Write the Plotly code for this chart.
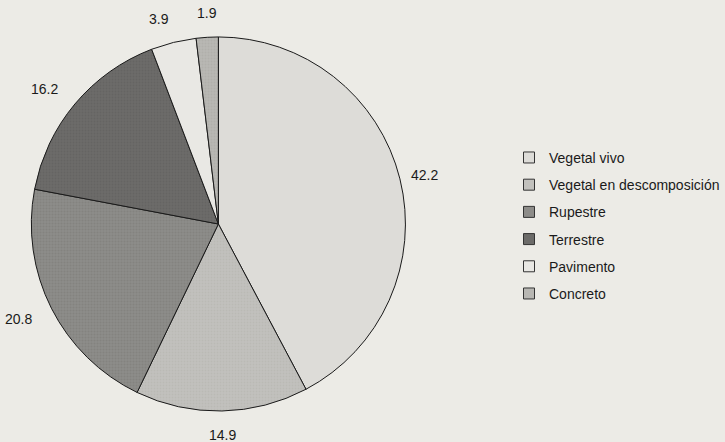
import math
import plotly.graph_objects as go

categories = ["Vegetal vivo", "Vegetal en descomposición", "Rupestre",
              "Terrestre", "Pavimento", "Concreto"]
values = [42.2, 14.9, 20.8, 16.2, 3.9, 1.9]
value_labels = ["42.2", "14.9", "20.8", "16.2", "3.9", "1.9"]
colors = ["#dddcd8", "#c2c1bd", "#8d8c89", "#6c6b69", "#e9e8e4", "#b8b7b3"]
pattern_fg = ["#d4d3cf", "#b2b1ad", "#7a7976", "#5e5d5b", "#e0dfdb", "#a9a8a4"]
pattern_shapes = ["", ".", ".", ".", "", "."]

W, H = 725, 442
BG = "#ecebe6"
FONT = "Liberation Sans, Arial, Helvetica, sans-serif"

# pie geometry in pixels
cx, cy, R = 223, 224, 191
dom_x = [(cx - R) / W, (cx + R) / W]
dom_y = [1 - (cy + R) / H, 1 - (cy - R) / H]

fig = go.Figure()
fig.add_trace(go.Pie(
    labels=categories,
    values=values,
    sort=False,
    direction="clockwise",
    rotation=0,
    textinfo="none",
    hoverinfo="label+value",
    showlegend=False,
    marker=dict(
        colors=colors,
        line=dict(color="#1a1a1a", width=1),
        pattern=dict(shape=pattern_shapes, fgcolor=pattern_fg,
                     size=3, solidity=0.35, fillmode="overlay"),
    ),
    domain=dict(x=dom_x, y=dom_y),
))

# legend entries (one per category, spaced like the original key)
for name, col in zip(categories, colors):
    fig.add_trace(go.Scatter(
        x=[None], y=[None], mode="markers", name=name,
        legendgroup=name, showlegend=True, hoverinfo="skip",
        marker=dict(symbol="square", size=11, color=col,
                    line=dict(color="#333333", width=1)),
    ))

# value labels outside the pie, placed from the cumulative angles
total = sum(values)
cum = 0.0
annotations = []
for v, t in zip(values, value_labels):
    mid = (cum + v / 2) / total * 2 * math.pi
    cum += v
    s, c = math.sin(mid), math.cos(mid)
    gap = 20 if s < -0.5 else 10
    px = cx + (R + gap) * s
    py = cy - (R + gap) * c
    xa = "left" if s > 0.2 else ("right" if s < -0.2 else "center")
    ya = "bottom" if c > 0.7 else ("top" if c < -0.7 else "middle")
    annotations.append(dict(
        x=px / W, y=1 - py / H, xref="paper", yref="paper",
        text=t, showarrow=False, xanchor=xa, yanchor=ya,
        font=dict(size=14, color="#1a1a1a", family=FONT),
    ))

fig.update_layout(
    width=W, height=H,
    margin=dict(l=0, r=0, t=0, b=0),
    paper_bgcolor=BG,
    plot_bgcolor=BG,
    xaxis=dict(visible=False),
    yaxis=dict(visible=False),
    annotations=annotations,
    legend=dict(
        x=0.717, y=0.679, xanchor="left", yanchor="top",
        font=dict(size=14, color="#1a1a1a", family=FONT),
        bgcolor="rgba(0,0,0,0)",
        itemwidth=30,
        tracegroupgap=6,
    ),
    showlegend=True,
)

fig.write_html(
    "out.html",
    config={"displayModeBar": False},
    post_script="document.body.style.margin='0';document.body.style.background='#ecebe6';",
)
